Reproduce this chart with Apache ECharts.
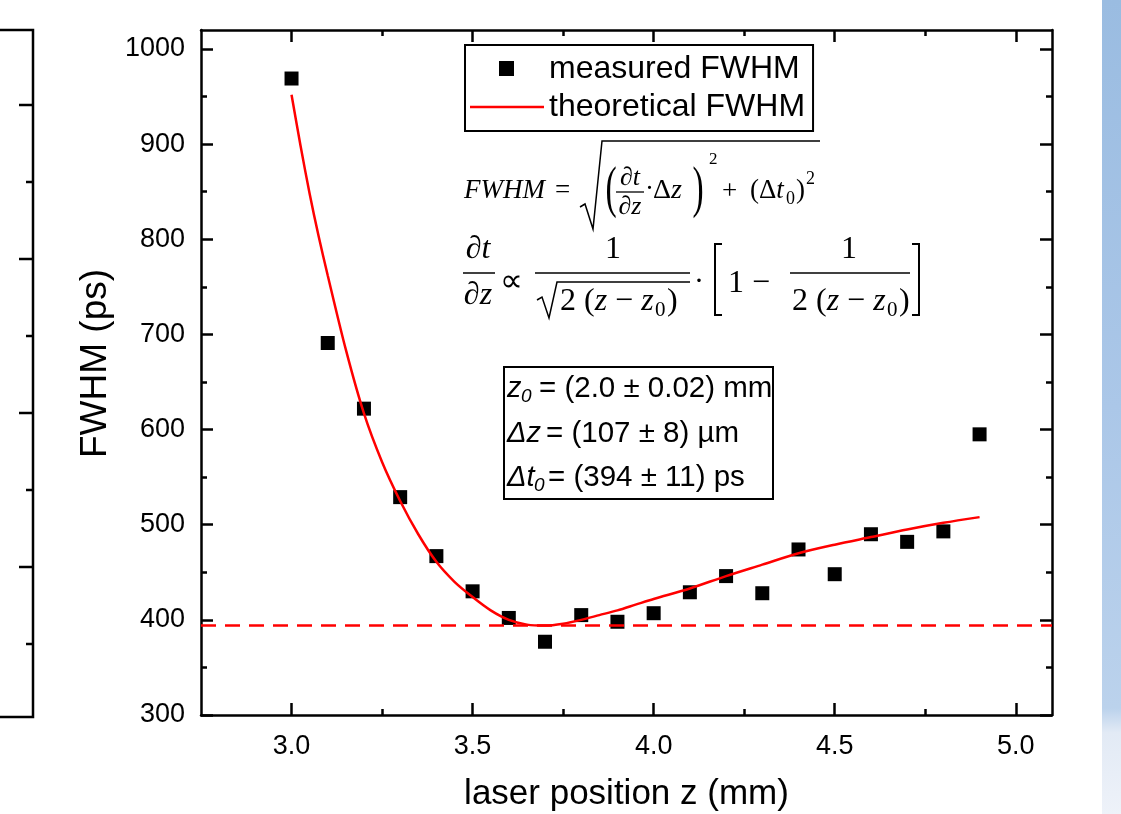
<!DOCTYPE html>
<html>
<head>
<meta charset="utf-8">
<script src="https://cdn.jsdelivr.net/npm/echarts@6/dist/echarts.min.js"></script>
<style>
  html, body { margin: 0; padding: 0; background: #fff; }
  #chart { width: 1121px; height: 814px; }
</style>
</head>
<body>
<div id="chart"></div>
<script>
// measured points (laser position in mm, FWHM in ps)
var zMeasured = [3.0, 3.1, 3.2, 3.3, 3.4, 3.5, 3.6, 3.7, 3.8, 3.9, 4.0, 4.1, 4.2, 4.3, 4.4, 4.5, 4.6, 4.7, 4.8, 4.9];
var fwhmMeasured = [969, 691, 622, 529, 467, 430, 402, 377, 405, 398, 407, 429, 446, 428, 474, 448, 490, 482, 493, 595];

// theoretical curve
var zTheory = [3.0, 3.025, 3.05, 3.075, 3.1, 3.15, 3.2, 3.25, 3.3, 3.35, 3.4, 3.45, 3.5, 3.55, 3.6, 3.65, 3.7, 3.75, 3.8, 3.85, 3.9, 3.95, 4.0, 4.1, 4.2, 4.3, 4.4, 4.5, 4.6, 4.7, 4.8, 4.9];
var fwhmTheory = [952, 898, 848, 803, 762, 684, 617, 566, 525, 490, 461, 440, 424, 410, 400, 395, 394, 396, 400, 405, 410, 416, 422, 433, 446, 458, 470, 479, 487, 495, 502, 508];

// fitted offset dt0 (ps), dashed line
var dt0 = 394;

// tick labels
var xMajor = [3.0, 3.5, 4.0, 4.5, 5.0];
var xMinor = [3.25, 3.75, 4.25, 4.75];
var yMajor = [300, 400, 500, 600, 700, 800, 900, 1000];
var yMinor = [350, 450, 550, 650, 750, 850, 950];

var SANS = 'Liberation Sans';
var SERIF = 'Liberation Serif';

// one axis of the Origin style frame (ticks inward)
function frameAxis(kind, pos, ticks, len, withLabels, extra) {
  var ax = {
    type: 'value',
    position: pos,
    min: kind === 'x' ? 2.75 : 300,
    max: kind === 'x' ? 5.1 : 1020,
    splitLine: { show: false },
    axisLine: { show: len > 8, onZero: false, lineStyle: { color: '#000', width: 2.5 } },
    axisTick: { show: true, inside: true, length: len, customValues: ticks, lineStyle: { color: '#000', width: 2.5 } },
    axisLabel: { show: withLabels, customValues: ticks, color: '#000', fontFamily: SANS, fontSize: 27,
      margin: kind === 'x' ? 18 : 16,
      formatter: function(v) { return kind === 'x' ? Number(v).toFixed(1) : String(v); } }
  };
  for (var k in extra) ax[k] = extra[k];
  return ax;
}

function rich(x, y, parts, size, align) {
  var s = '', r = {};
  parts.forEach(function(p, i) {
    s += '{p' + i + '|' + p[0] + '}';
    r['p' + i] = { fontFamily: SERIF, fontSize: size, fontStyle: p[1] ? 'italic' : 'normal', fill: '#000' };
  });
  return { type: 'text', x: x, y: y, z: 10, style: { text: s, rich: r, fontFamily: SERIF, fontSize: size, fill: '#000', align: align || 'left', verticalAlign: 'middle' } };
}
function txt(x, y, s, size, italic, align, family) {
  return { type: 'text', x: x, y: y, z: 10, style: { text: s, fontFamily: family || SERIF, fontSize: size, fontStyle: italic ? 'italic' : 'normal', fill: '#000', align: align || 'left', verticalAlign: 'middle' } };
}
function seg(x1, y1, x2, y2, w) {
  return { type: 'line', z: 10, shape: { x1: x1, y1: y1, x2: x2, y2: y2 }, style: { stroke: '#000', lineWidth: w || 1.5 } };
}
function poly(pts, w) {
  return { type: 'polyline', z: 10, shape: { points: pts }, style: { stroke: '#000', fill: null, lineWidth: w || 1.5 } };
}
// thin tall parenthesis, drawn as text squeezed horizontally
function paren(x, y, s, size) {
  var t = txt(x, y, s, size, false, 'center');
  t.scaleX = 0.6;
  return t;
}

var graphics = [];

// cut off neighbour panel on the left
graphics.push(poly([[0, 30], [33, 30], [33, 717], [0, 717]], 2.5));
[105, 259, 413, 567].forEach(function(y) { graphics.push(seg(33, y, 19, y, 2.5)); });
[182, 336, 490, 644].forEach(function(y) { graphics.push(seg(33, y, 26, y, 2.5)); });

// blue strip on the right edge
graphics.push({ type: 'rect', shape: { x: 1102, y: 0, width: 19, height: 814 },
  style: { fill: new echarts.graphic.LinearGradient(0, 0, 0, 1, [
    { offset: 0, color: '#9abce1' }, { offset: 0.5, color: '#abc7e8' },
    { offset: 0.87, color: '#bbd2ec' }, { offset: 0.9, color: '#e2eaf5' }, { offset: 1, color: '#eef2f9' }]) } });

// formula 1: FWHM = sqrt((dt/dz * dz)^2 + (dt0)^2)
graphics.push(rich(464, 191, [['FWHM', 1]], 27));
graphics.push(txt(555, 191, '=', 27));
graphics.push(poly([[580, 207], [585, 204], [593, 229], [602, 141], [820, 141]], 1.5));
graphics.push(paren(611, 191, '(', 56));
graphics.push(rich(630, 178, [['\u2202', 0], ['t', 1]], 26, 'center'));
graphics.push(seg(616, 192, 644, 192, 1.3));
graphics.push(rich(630, 207, [['\u2202', 0], ['z', 1]], 26, 'center'));
graphics.push(txt(645, 190, '\u00b7', 27));
graphics.push(rich(653, 191, [['\u0394', 0], ['z', 1]], 28));
graphics.push(paren(698, 191, ')', 56));
graphics.push(txt(709, 160, '2', 17));
graphics.push(txt(722, 192, '+', 27));
graphics.push(rich(750, 191, [['(\u0394', 0], ['t', 1]], 27));
graphics.push(txt(786, 199, '0', 18));
graphics.push(txt(796, 191, ')', 27));
graphics.push(txt(806, 179, '2', 18));

// formula 2: dt/dz ~ 1/sqrt(2(z-z0)) * [1 - 1/(2(z-z0))]
graphics.push(rich(478, 250, [['\u2202', 0], ['t', 1]], 32, 'center'));
graphics.push(seg(463, 273, 495, 273, 1.5));
graphics.push(rich(478, 296, [['\u2202', 0], ['z', 1]], 32, 'center'));
graphics.push(txt(511, 283, '\u221d', 32, false, 'center'));
graphics.push(txt(613, 250, '1', 32, false, 'center'));
graphics.push(seg(535, 273, 690, 273, 1.5));
graphics.push(poly([[537, 300], [542, 297], [549, 318], [557, 282], [690, 282]], 1.5));
graphics.push(rich(560, 302, [['2 (', 0], ['z', 1], [' \u2212 ', 0], ['z', 1]], 32));
graphics.push(txt(655, 310, '0', 21));
graphics.push(txt(667, 302, ')', 32));
graphics.push(txt(699, 282, '\u00b7', 30, false, 'center'));
graphics.push(poly([[722, 244], [715, 244], [715, 315], [722, 315]], 2));
graphics.push(txt(728, 284, '1 \u2212', 32));
graphics.push(txt(849, 250, '1', 32, false, 'center'));
graphics.push(seg(790, 273, 910, 273, 1.5));
graphics.push(rich(792, 302, [['2 (', 0], ['z', 1], [' \u2212 ', 0], ['z', 1]], 32));
graphics.push(txt(887, 310, '0', 21));
graphics.push(txt(899, 302, ')', 32));
graphics.push(poly([[912, 244], [919, 244], [919, 315], [912, 315]], 2));

// fit parameter box
graphics.push({ type: 'rect', z: 10, shape: { x: 504, y: 367, width: 269, height: 132 }, style: { fill: 'rgba(0,0,0,0)', stroke: '#000', lineWidth: 2 } });
graphics.push(txt(507, 389, 'z', 29, true, 'left', SANS));
graphics.push(txt(521, 397, '0', 19, true, 'left', SANS));
graphics.push(txt(539, 389, '= (2.0 \u00b1 0.02) mm', 29.5, false, 'left', SANS));
graphics.push(txt(507, 434, '\u0394z', 29, true, 'left', SANS));
graphics.push(txt(546, 434, '= (107 \u00b1 8) \u00b5m', 29.5, false, 'left', SANS));
graphics.push(txt(507, 478, '\u0394t', 29, true, 'left', SANS));
graphics.push(txt(534, 486, '0', 19, true, 'left', SANS));
graphics.push(txt(548, 478, '= (394 \u00b1 11) ps', 29.5, false, 'left', SANS));

var measured = zMeasured.map(function(z, i) { return [z, fwhmMeasured[i]]; });
var theory = zTheory.map(function(z, i) { return [z, fwhmTheory[i]]; });

var chart = echarts.init(document.getElementById('chart'), null, { renderer: 'canvas' });
chart.setOption({
  animation: false,
  backgroundColor: '#fff',
  grid: { left: 201, right: 69, top: 30, bottom: 99, outerBoundsMode: 'none', containLabel: false },
  legend: {
    left: 465, top: 45, orient: 'vertical', align: 'left',
    padding: [8, 8, 8, 5], itemGap: 6, itemWidth: 74, itemHeight: 16,
    borderColor: '#000', borderWidth: 2, borderRadius: 0, backgroundColor: '#fff',
    textStyle: { fontFamily: SANS, fontSize: 32, color: '#000', lineHeight: 32 },
    selectedMode: false,
    data: [
      { name: 'measured FWHM', icon: 'path://M0,0M74,16M29,0L44,0L44,15L29,15Z' },
      { name: 'theoretical FWHM', icon: 'path://M0,0M74,16M0,6.8L74,6.8L74,9.2L0,9.2Z' }
    ]
  },
  xAxis: [
    frameAxis('x', 'bottom', xMajor, 12, true, {
      name: 'laser position z (mm)', nameLocation: 'middle', nameGap: 62,
      nameTextStyle: { fontFamily: SANS, fontSize: 35, color: '#000' } }),
    frameAxis('x', 'top', xMajor, 12, false),
    frameAxis('x', 'bottom', xMinor, 6, false),
    frameAxis('x', 'top', xMinor, 6, false)
  ],
  yAxis: [
    frameAxis('y', 'left', yMajor, 12, true, {
      name: 'FWHM (ps)', nameLocation: 'middle', nameGap: 86,
      nameTextStyle: { fontFamily: SANS, fontSize: 37, color: '#000', padding: [0, 0, 0, 18] } }),
    frameAxis('y', 'right', yMajor, 12, false),
    frameAxis('y', 'left', yMinor, 6, false),
    frameAxis('y', 'right', yMinor, 6, false)
  ],
  series: [
    {
      name: 'measured FWHM',
      type: 'scatter',
      xAxisIndex: 0, yAxisIndex: 0,
      symbol: 'rect',
      symbolSize: 14,
      itemStyle: { color: '#000', opacity: 1 },
      data: measured
    },
    {
      name: 'theoretical FWHM',
      type: 'line',
      xAxisIndex: 0, yAxisIndex: 0,
      symbol: 'none',
      smooth: 0.3,
      lineStyle: { color: '#ff0000', width: 2.5 },
      itemStyle: { color: '#ff0000' },
      data: theory,
      markLine: {
        silent: true,
        symbol: ['none', 'none'],
        label: { show: false },
        lineStyle: { color: '#ff0000', type: [15, 9], width: 2.5 },
        data: [{ yAxis: dt0 }]
      }
    }
  ],
  graphic: graphics
});
</script>
</body>
</html>
